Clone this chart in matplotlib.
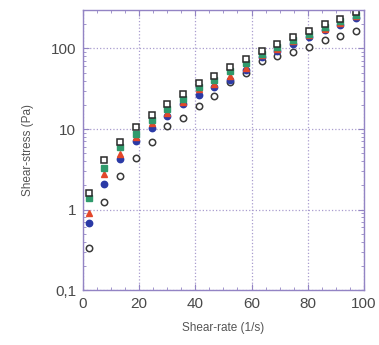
import matplotlib
matplotlib.use("Agg")
import matplotlib.pyplot as plt
from matplotlib.ticker import FixedLocator, MultipleLocator, LogLocator, NullFormatter

plt.rcParams['font.family'] = ['Liberation Sans', 'DejaVu Sans']

shear_rate = [2, 7.6, 13.2, 18.8, 24.4, 30, 35.6, 41.2, 46.8, 52.4, 58, 63.6, 69.2, 74.8, 80.4, 86, 91.6, 97.2]
stress_black = [1.6, 4.1, 6.9, 10.5, 14.8, 20.6, 27, 37, 46, 59, 73, 93, 112, 139, 164, 199, 233, 282]
stress_green = [1.38, 3.3, 5.9, 8.7, 13.1, 17.7, 23.8, 33.6, 41, 52, 66, 86, 104, 128, 152, 185, 218, 262]
stress_red = [0.9, 2.75, 4.9, 8.0, 12, 16, 21.7, 31.5, 36, 46, 57, 82, 98, 122, 145, 176, 208, 250]
stress_blue = [0.69, 2.07, 4.2, 7.1, 10.3, 14.7, 20.4, 26.6, 33, 41, 54, 78, 94, 115, 137, 168, 198, 240]
stress_gray = [0.33, 1.25, 2.6, 4.4, 6.9, 11, 13.7, 19.1, 26, 38.7, 50, 70, 80, 91, 105, 129, 141, 164]

x_ticks = [0, 20, 40, 60, 80, 100]
y_ticks = [0.1, 1, 10, 100]
y_tick_labels = ["0,1", "1", "10", "100"]

fig = plt.figure(figsize=(3.79, 3.45), dpi=100)
ax = fig.add_axes([0.219, 0.159, 0.741, 0.812])

frame = '#9384c4'
ax.set_yscale('log')
ax.set_xlim(0, 100)
ax.set_ylim(0.1, 300)

ax.plot(shear_rate, stress_gray, 'o', ms=4.6, mfc='white', mec='#3a3a3a', mew=1.1, ls='none')
ax.plot(shear_rate, stress_blue, 'o', ms=4.6, mfc='#2b3aa6', mec='#2b3aa6', ls='none')
ax.plot(shear_rate, stress_red, '^', ms=4.8, mfc='#e4472a', mec='#e4472a', ls='none')
ax.plot(shear_rate, stress_green, 's', ms=4.5, mfc='#2f9a6c', mec='#2f9a6c', ls='none')
ax.plot(shear_rate, stress_black, 's', ms=4.4, mfc='white', mec='#2a2a2a', mew=1.1, ls='none')

ax.xaxis.set_major_locator(FixedLocator(x_ticks))
ax.xaxis.set_minor_locator(MultipleLocator(5))
ax.yaxis.set_major_locator(FixedLocator(y_ticks))
ax.yaxis.set_minor_locator(LogLocator(base=10, subs=range(2, 10)))
ax.yaxis.set_minor_formatter(NullFormatter())
ax.set_yticklabels(y_tick_labels)
ax.set_xticklabels([str(v) for v in x_ticks])

ax.grid(True, which='major', color='#a99ccf', linestyle=':', linewidth=0.9)
for s in ax.spines.values():
    s.set_color(frame)
    s.set_linewidth(1.0)
ax.tick_params(which='both', direction='in', top=True, right=True, color=frame)
ax.tick_params(which='major', length=4, labelsize=11, labelcolor='#4a4a4a', pad=5)
ax.tick_params(which='minor', length=2.5)

ax.set_xlabel('Shear-rate (1/s)', fontsize=8.5, color='#555555', labelpad=8)
ax.set_ylabel('Shear-stress (Pa)', fontsize=8.5, color='#555555', labelpad=12)

fig.savefig('out.png', dpi=100)
